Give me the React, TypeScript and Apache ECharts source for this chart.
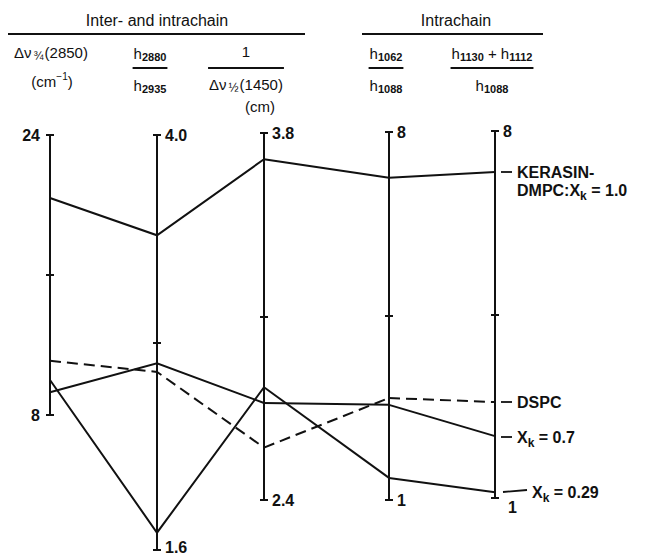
import React, { useEffect, useRef } from 'react';
import * as echarts from 'echarts';

// ---------- data ----------
const dimensions = ['Δν¾(2850) (cm⁻¹)', 'h2880/h2935', '1/Δν½(1450) (cm)', 'h1062/h1088', '(h1130+h1112)/h1088'];
const axisMax = [24, 4.0, 3.8, 8, 8];
const axisMin = [8, 1.6, 2.4, 1, 1];
const axisInterval = [8, 1.2, 0.7, 3.5, 3.5];
const topLabels = ['24', '4.0', '3.8', '8', '8'];
const bottomLabels = ['8', '1.6', '2.4', '1', '1'];

const seriesNames = ['KERASIN-DMPC: Xk = 1.0', 'DSPC', 'Xk = 0.7', 'Xk = 0.29'];
const kerasin = [20.4, 3.42, 3.7, 7.13, 7.22];
const dspc = [11.1, 2.63, 2.6, 2.94, 2.83];
const xk07 = [9.3, 2.68, 2.77, 2.81, 2.18];
const xk029 = [10.0, 1.7, 2.83, 1.42, 1.11];

// ---------- layout ----------
const AXIS_X = [50, 157, 264, 389, 495];
const AXIS_TOP = [135, 135, 133, 132, 131];
const AXIS_BOTTOM = [415, 550, 500, 500, 498];
const BOTTOM_LABEL_PAD = [
  [0, 0, 0, 0],
  [0, 0, 6, 0],
  [0, 0, 0, 0],
  [0, 0, 0, 0],
  [18, 0, 0, 5],
];
const PAR_TOP = 131;
const PAR_BOTTOM = 550;
const GROUPS = [[0, 1, 2], [2, 3], [3, 4]];
const INK = '#111';
const FONT = '"Liberation Sans", Arial, Helvetica, sans-serif';

let mctx: CanvasRenderingContext2D | null = null;
function measure(t: string, size: number, weight: string) {
  if (!mctx) mctx = document.createElement('canvas').getContext('2d');
  mctx!.font = `${weight} ${size}px ${FONT}`;
  return mctx!.measureText(t).width;
}
type Part = { t: string; size?: number; dy?: number; w?: string; gap?: number };
function partW(p: Part) {
  return measure(p.t, p.size ?? 15, p.w ?? 'normal') + (p.gap ?? 0);
}
function runWidth(parts: Part[]) {
  return parts.reduce((s, p) => s + partW(p), 0);
}
function run(parts: Part[], x: number, y: number, align: 'left' | 'center') {
  const total = runWidth(parts);
  let cx = align === 'center' ? x - total / 2 : x;
  return parts.map((p) => {
    const size = p.size ?? 15;
    const w = p.w ?? 'normal';
    const el = {
      type: 'text',
      silent: true,
      x: cx,
      y: y + (p.dy ?? 0),
      style: {
        text: p.t,
        font: `${w} ${size}px ${FONT}`,
        fill: INK,
        textAlign: 'left',
        textVerticalAlign: 'middle',
      },
    };
    cx += partW(p);
    return el;
  });
}
function hline(x1: number, x2: number, y: number, w = 1.8) {
  return { type: 'line', silent: true, shape: { x1, y1: y, x2, y2: y }, style: { stroke: INK, lineWidth: w } };
}
function fraction(num: Part[], den: Part[], cx: number, yNum: number, yLine: number, yDen: number) {
  const w = Math.max(runWidth(num), runWidth(den)) + 2;
  return [...run(num, cx, yNum, 'center'), hline(cx - w / 2, cx + w / 2, yLine, 2), ...run(den, cx, yDen, 'center')];
}
const h = (sub: string): Part[] => [{ t: 'h' }, { t: sub, size: 11, w: 'bold', dy: 4 }];

function buildGraphics() {
  const B = 'bold';
  const els: any[] = [];
  els.push(...run([{ t: 'Inter- and intrachain', size: 16 }], 157, 20, 'center'));
  els.push(hline(8, 305, 34, 1.8));
  els.push(...run([{ t: 'Intrachain', size: 16 }], 456, 20, 'center'));
  els.push(hline(362, 543, 34, 1.8));
  // column 1
  els.push(...run([{ t: 'Δν', gap: 2 }, { t: '¾', size: 12, dy: 4, gap: 1 }, { t: '(2850)' }], 51, 52, 'center'));
  els.push(...run([{ t: '(cm' }, { t: '−1', size: 10, dy: -5 }, { t: ')' }], 52, 81, 'center'));
  // column 2
  els.push(...fraction(h('2880'), h('2935'), 150, 53, 68, 85));
  // column 3
  els.push(...fraction([{ t: '1' }], [{ t: 'Δν', gap: 2 }, { t: '½', size: 12, dy: 4, gap: 1 }, { t: '(1450)' }], 246, 51, 68, 84));
  els.push(...run([{ t: '(cm)' }], 260, 106, 'center'));
  // column 4
  els.push(...fraction(h('1062'), h('1088'), 386, 53, 68, 85));
  // column 5
  els.push(...fraction([...h('1130'), { t: ' + h' }, { t: '1112', size: 11, w: 'bold', dy: 4 }], h('1088'), 492, 53, 68, 85));

  // series labels
  const lab = (t: string): Part => ({ t, size: 16, w: B });
  const sub = (t: string): Part => ({ t, size: 12, w: B, dy: 6 });
  els.push(hline(501, 512, 172, 1.8));
  els.push(...run([lab('KERASIN-')], 517, 172, 'left'));
  els.push(...run([lab('DMPC:X'), sub('k'), lab(' = 1.0')], 517, 190, 'left'));
  els.push(hline(501, 512, 402, 1.8));
  els.push(...run([lab('DSPC')], 517, 402, 'left'));
  els.push(hline(501, 512, 437, 1.8));
  els.push(...run([lab('X'), sub('k'), lab(' = 0.7')], 517, 437, 'left'));
  els.push({ type: 'line', silent: true, shape: { x1: 503, y1: 492, x2: 527, y2: 490 }, style: { stroke: INK, lineWidth: 1.8 } });
  els.push(...run([lab('X'), sub('k'), lab(' = 0.29')], 532, 492, 'left'));
  return els;
}

export default function App() {
  const ref = useRef<HTMLDivElement>(null);
  useEffect(() => {
    if (!ref.current) return;
    const chart = echarts.init(ref.current, undefined, { renderer: 'svg' });

    const rows = [
      { name: seriesNames[0], vals: kerasin, dashed: false },
      { name: seriesNames[1], vals: dspc, dashed: true },
      { name: seriesNames[2], vals: xk07, dashed: false },
      { name: seriesNames[3], vals: xk029, dashed: false },
    ];

    // extended scale of each hidden parallel axis so that the visible axis span matches
    const extMin = (k: number) => {
      const s = (axisMax[k] - axisMin[k]) / (AXIS_BOTTOM[k] - AXIS_TOP[k]);
      return axisMin[k] - (PAR_BOTTOM - AXIS_BOTTOM[k]) * s;
    };
    const extMax = (k: number) => {
      const s = (axisMax[k] - axisMin[k]) / (AXIS_BOTTOM[k] - AXIS_TOP[k]);
      return axisMax[k] + (AXIS_TOP[k] - PAR_TOP) * s;
    };

    const hiddenAxis = {
      axisLine: { show: false },
      axisTick: { show: false },
      axisLabel: { show: false, formatter: () => '', color: 'rgba(0,0,0,0)' },
      splitLine: { show: false },
      nameTextStyle: { color: 'rgba(0,0,0,0)', fontSize: 1 },
    };
    const parallel = GROUPS.map((g) => ({
      left: AXIS_X[g[0]],
      width: AXIS_X[g[g.length - 1]] - AXIS_X[g[0]],
      top: PAR_TOP,
      height: PAR_BOTTOM - PAR_TOP,
      parallelAxisDefault: { ...hiddenAxis },
    }));
    const parallelAxis: any[] = [];
    GROUPS.forEach((g, gi) => {
      g.forEach((k, j) => {
        parallelAxis.push({
          dim: j,
          parallelIndex: gi,
          name: '',
          type: 'value',
          min: extMin(k),
          max: extMax(k),
          ...hiddenAxis,
        });
      });
    });
    const pSeries = GROUPS.map((g, gi) => ({
      type: 'parallel',
      parallelIndex: gi,
      silent: true,
      smooth: false,
      inactiveOpacity: 1,
      activeOpacity: 1,
      lineStyle: { color: INK, width: 2, opacity: 1 },
      emphasis: { disabled: true },
      data: rows.map((r) => ({
        name: r.name,
        value: g.map((k) => r.vals[k]),
        lineStyle: { color: INK, width: 2, opacity: 1, type: r.dashed ? [11, 6] : 'solid' },
      })),
    }));

    const grid = AXIS_X.map((x, i) => ({
      left: x,
      width: 0,
      top: AXIS_TOP[i],
      height: AXIS_BOTTOM[i] - AXIS_TOP[i],
      outerBoundsMode: 'none',
      containLabel: false,
    }));
    const xAxis = AXIS_X.map((_, i) => ({ gridIndex: i, type: 'value', show: false, min: 0, max: 1 }));
    const labelFmt = (i: number) => (v: number) => {
      if (Math.abs(v - axisMax[i]) < 1e-6) return `{n|${topLabels[i]}}`;
      if (Math.abs(v - axisMin[i]) < 1e-6) return `{lo|${bottomLabels[i]}}`;
      return '';
    };
    const labelStyle = (i: number, margin: number, show: boolean) => ({
      show,
      formatter: labelFmt(i),
      margin,
      color: INK,
      fontSize: 16,
      fontWeight: 'bold',
      fontFamily: FONT,
      rich: {
        n: { color: INK, fontSize: 16, fontWeight: 'bold', fontFamily: FONT },
        lo: {
          color: INK,
          fontSize: 16,
          fontWeight: 'bold',
          fontFamily: FONT,
          padding: BOTTOM_LABEL_PAD[i],
        },
      },
    });
    const yAxis: any[] = [];
    AXIS_X.forEach((_, i) => {
      const common = {
        gridIndex: i,
        type: 'value',
        min: axisMin[i],
        max: axisMax[i],
        interval: axisInterval[i],
        splitLine: { show: false },
        axisTick: { show: true, length: 4, lineStyle: { color: INK, width: 2 } },
      };
      yAxis.push({
        ...common,
        name: dimensions[i],
        nameTextStyle: { fontSize: 0 },
        position: 'left',
        axisLine: { show: true, lineStyle: { color: INK, width: 2 } },
        axisLabel: labelStyle(i, 10, i === 0),
      });
      yAxis.push({
        ...common,
        position: 'right',
        axisLine: { show: false },
        axisLabel: labelStyle(i, 8, i !== 0),
      });
    });

    chart.setOption({
      animation: false,
      backgroundColor: '#fff',
      parallel,
      parallelAxis,
      grid,
      xAxis,
      yAxis,
      series: pSeries,
      graphic: buildGraphics(),
    });
    return () => chart.dispose();
  }, []);
  return <div ref={ref} style={{ position: 'absolute', left: 0, top: 0, width: 645, height: 557 }} />;
}
